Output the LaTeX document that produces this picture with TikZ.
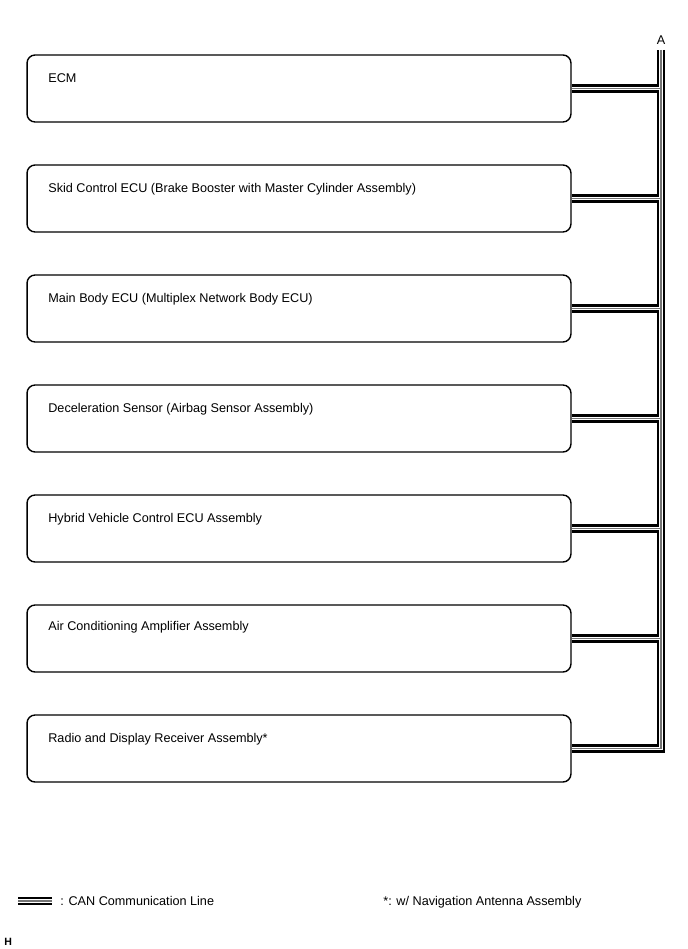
\documentclass[tikz,border=0pt]{standalone}
\usepackage{fontspec}
\setmainfont{Liberation Sans}
\usetikzlibrary{positioning}

\begin{document}
\begin{tikzpicture}[
    x=0.02cm, y=-0.02cm,
    ecu/.style={draw, line width=0.8pt, rounded corners=0.16cm, minimum width=10.88cm, minimum height=1.34cm},
    lbl/.style={anchor=base west, inner sep=0pt, font=\fontsize{7.2}{8}\selectfont},
    canout/.style={line width=5pt, black},
    canmid/.style={line width=2.2pt, white},
    cancore/.style={line width=0.7pt, black!55}
]
    \useasboundingbox (0,0) rectangle (688,949);

    % ECUs
    \node[ecu] (ecm) at (299,88.5) {};
    \node[ecu] (skid) at (299,198.5) {};
    \node[ecu] (mainbody) at (299,308.5) {};
    \node[ecu] (decel) at (299,418.5) {};
    \node[ecu] (hybrid) at (299,528.5) {};
    \node[ecu] (aircon) at (299,638.5) {};
    \node[ecu] (radio) at (299,748.5) {};

    \node[lbl] (ecmtxt) at (48,83) {ECM};
    \node[lbl] (skidtxt) at (48,193) {Skid Control ECU (Brake Booster with Master Cylinder Assembly)};
    \node[lbl] (maintxt) at (48,302) {Main Body ECU (Multiplex Network Body ECU)};
    \node[lbl] (deceltxt) at (48,412) {Deceleration Sensor (Airbag Sensor Assembly)};
    \node[lbl] (hybridtxt) at (48,522) {Hybrid Vehicle Control ECU Assembly};
    \node[lbl] (airtxt) at (48,630) {Air Conditioning Amplifier Assembly};
    \node[lbl] (radiotxt) at (48,742) {Radio and Display Receiver Assembly*};

    % CAN bus
    \coordinate (busA) at (661,50);
    \coordinate (j1) at (661,88.5);
    \coordinate (j2) at (661,198.5);
    \coordinate (j3) at (661,308.5);
    \coordinate (j4) at (661,418.5);
    \coordinate (j5) at (661,528.5);
    \coordinate (j6) at (661,638.5);
    \coordinate (j7) at (661,748.5);
    \node[lbl, anchor=base] (atxt) at (661,45) {A};

    \foreach \layer in {canout, canmid, cancore} {
        \draw[\layer] (busA) -- (j7) -- (radio.east);
        \foreach \b/\j in {ecm/j1, skid/j2, mainbody/j3, decel/j4, hybrid/j5, aircon/j6}
            \draw[\layer] (\b.east) -- (\j);
    }

    % legend
    \coordinate (leg1) at (18,901);
    \coordinate (leg2) at (52,901);
    \foreach \layer in {canout, canmid, cancore}
        \draw[\layer] (leg1) -- (leg2);
    \node[lbl] (legtxt) at (60,905) {: CAN Communication Line};
    \node[lbl] (notetxt) at (383,905) {*: w/ Navigation Antenna Assembly};
    \node[lbl, font=\fontsize{6}{7}\selectfont\bfseries] (htxt) at (4,945) {H};
\end{tikzpicture}
\end{document}
